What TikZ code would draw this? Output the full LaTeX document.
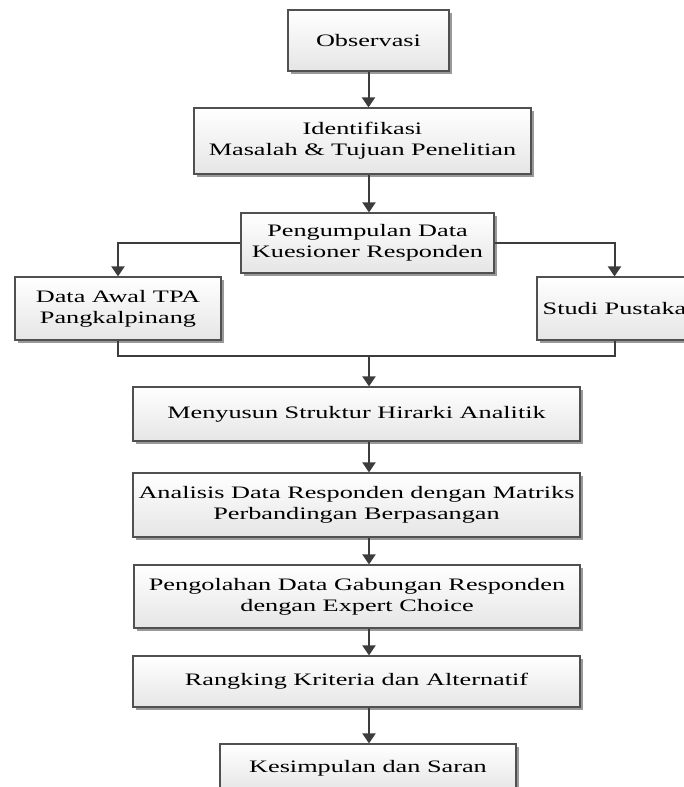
\documentclass[tikz,border=0pt]{standalone}
\usepackage{fontspec}
\setmainfont{Liberation Serif}[FakeStretch=1.5]
\usetikzlibrary{arrows.meta,shadows}
\definecolor{lineclr}{HTML}{3C3C3C}
\definecolor{boxline}{HTML}{505050}
\tikzset{
  box/.style={draw=boxline, line width=1.2pt, top color=white, bottom color=black!10,
    inner sep=0pt, align=center, font=\fontsize{17.5}{21}\selectfont,
    drop shadow={shadow xshift=2.5pt, shadow yshift=-2.5pt, fill=black!40, opacity=1}},
  conn/.style={draw=lineclr, line width=2pt},
  arr/.style={conn, -{Triangle[width=13pt,length=10pt]}}
}
\begin{document}
\begin{tikzpicture}[x=1pt,y=-1pt]
\useasboundingbox (0,0) rectangle (684,787);
\clip (0,0) rectangle (684,787);
\node[box, minimum width=161pt, minimum height=61pt] (obs) at (368.5,40.5) {Observasi};
\node[box, minimum width=337pt, minimum height=66pt] (ident) at (362.5,141) {Identifikasi\\Masalah \& Tujuan Penelitian};
\node[box, minimum width=253pt, minimum height=60pt] (peng) at (367.5,243) {Pengumpulan Data\\Kuesioner Responden};
\node[box, minimum width=206pt, minimum height=63pt] (data) at (118,308.5) {Data Awal TPA\\Pangkalpinang};
\node[box, minimum width=155pt, minimum height=63pt] (studi) at (614.5,308.5) {Studi Pustaka};
\node[box, minimum width=447pt, minimum height=54pt] (susun) at (356.5,414) {Menyusun Struktur Hirarki Analitik};
\node[box, minimum width=447pt, minimum height=64pt] (anal) at (356.5,505) {Analisis Data Responden dengan Matriks\\Perbandingan Berpasangan};
\node[box, minimum width=446pt, minimum height=63pt] (olah) at (357,596.5) {Pengolahan Data Gabungan Responden\\dengan Expert Choice};
\node[box, minimum width=447pt, minimum height=51pt] (rank) at (356.5,681.5) {Rangking Kriteria dan Alternatif};
\node[box, minimum width=296pt, minimum height=48pt] (simp) at (368,768) {Kesimpulan dan Saran};
\coordinate (join) at (369,356);
\draw[arr] (obs.south) -- (obs.south |- ident.north);
\draw[arr] (join |- ident.south) -- (join |- peng.north);
\draw[arr] (peng.west) -| (data.north);
\draw[arr] (peng.east) -| (studi.north);
\draw[conn] (data.south) |- (join) -| (studi.south);
\draw[arr] (join) -- (join |- susun.north);
\draw[arr] (join |- susun.south) -- (join |- anal.north);
\draw[arr] (join |- anal.south) -- (join |- olah.north);
\draw[arr] (join |- olah.south) -- (join |- rank.north);
\draw[arr] (join |- rank.south) -- (join |- simp.north);
\end{tikzpicture}
\end{document}
